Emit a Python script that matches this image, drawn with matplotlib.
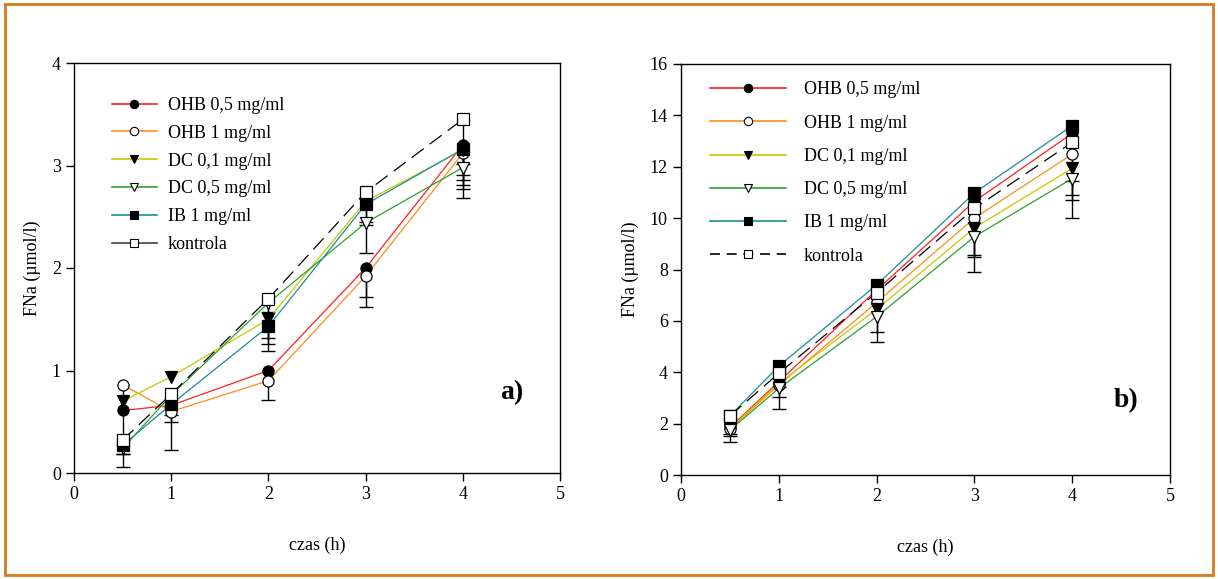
import numpy as np
import matplotlib
matplotlib.use("Agg")
import matplotlib.pyplot as plt
from matplotlib.lines import Line2D
from matplotlib.patches import Rectangle

plt.rcParams['font.family'] = ['Liberation Serif', 'DejaVu Serif']

czas = [0.5, 1, 2, 3, 4]
serie = ['OHB 0,5 mg/ml', 'OHB 1 mg/ml', 'DC 0,1 mg/ml', 'DC 0,5 mg/ml', 'IB 1 mg/ml', 'kontrola']
kolory = ['#ff2020', '#ff8c1a', '#c8c800', '#2e9e2e', '#1a8f95', 'black']
markery = ['o', 'o', 'v', 'v', 's', 's']
wypelnione = [True, False, True, False, True, False]

# panel a) - srednie i dolne odchylenia
a_ohb05 = [0.61, 0.66, 1.00, 2.00, 3.20]
a_ohb1 = [0.86, 0.60, 0.90, 1.92, 3.12]
a_dc01 = [0.70, 0.94, 1.50, 2.65, 3.15]
a_dc05 = [0.24, 0.76, 1.66, 2.44, 2.98]
a_ib1 = [0.27, 0.67, 1.43, 2.62, 3.16]
a_kontrola = [0.32, 0.77, 1.70, 2.74, 3.45]
a_err_ohb05 = [0.00, 0.16, 0.00, 0.28, 0.52]
a_err_ohb1 = [0.80, 0.38, 0.19, 0.30, 0.26]
a_err_dc01 = [0.00, 0.00, 0.24, 0.20, 0.24]
a_err_dc05 = [0.05, 0.00, 0.34, 0.29, 0.21]
a_err_ib1 = [0.00, 0.10, 0.24, 0.20, 0.35]
a_err_kontrola = [0.13, 0.00, 0.13, 0.00, 0.44]

# panel b)
b_ohb05 = [1.85, 3.63, 7.20, 10.65, 13.30]
b_ohb1 = [1.80, 3.50, 6.72, 10.00, 12.49]
b_dc01 = [1.80, 3.57, 6.45, 9.62, 11.94]
b_dc05 = [1.75, 3.37, 6.16, 9.28, 11.54]
b_ib1 = [2.30, 4.24, 7.40, 10.98, 13.60]
b_kontrola = [2.30, 3.96, 7.10, 10.38, 12.95]
b_err_ohb05 = [0.00, 0.00, 0.00, 0.00, 0.00]
b_err_ohb1 = [0.30, 0.47, 0.00, 1.50, 1.79]
b_err_dc01 = [0.20, 0.16, 0.90, 1.05, 1.03]
b_err_dc05 = [0.45, 0.80, 1.00, 1.37, 1.53]
b_err_ib1 = [0.00, 0.00, 0.00, 0.00, 0.00]
b_err_kontrola = [0.00, 0.00, 0.00, 0.00, 1.50]

dane_a = [a_ohb05, a_ohb1, a_dc01, a_dc05, a_ib1, a_kontrola]
err_a = [a_err_ohb05, a_err_ohb1, a_err_dc01, a_err_dc05, a_err_ib1, a_err_kontrola]
dane_b = [b_ohb05, b_ohb1, b_dc01, b_dc05, b_ib1, b_kontrola]
err_b = [b_err_ohb05, b_err_ohb1, b_err_dc01, b_err_dc05, b_err_ib1, b_err_kontrola]

W, H = 1218, 579
fig = plt.figure(figsize=(W / 100, H / 100), dpi=100)
fig.patches.append(Rectangle((5 / W, 4 / H), 1208 / W, 571 / H, transform=fig.transFigure,
                             fill=False, edgecolor='#d87a1a', linewidth=2))

ax1 = fig.add_axes([74 / W, 1 - 473 / H, 486 / W, 410 / H])
ax2 = fig.add_axes([681 / W, 1 - 475 / H, 489 / W, 411 / H])


def rysuj(ax, dane, bledy):
    x = np.array(czas)
    for y, e in zip(dane, bledy):
        y = np.array(y)
        e = np.array(e)
        sel = e > 0
        if sel.any():
            eb = ax.errorbar(x[sel], y[sel], yerr=[e[sel], np.zeros(sel.sum())], fmt='none',
                             ecolor='black', elinewidth=1, capsize=5, capthick=1, zorder=2)
            for cl in eb[1][1:]:
                cl.set_visible(False)
    for y, k, m, f, nazwa in zip(dane, kolory, markery, wypelnione, serie):
        ls = (0, (12, 6)) if nazwa == 'kontrola' else '-'
        ax.plot(czas, y, color=k, linestyle=ls, linewidth=0.9, zorder=3)
        ax.plot(czas, y, linestyle='none', marker=m, markersize=8,
                markerfacecolor='black' if f else 'white', markeredgecolor='black',
                markeredgewidth=0.9, zorder=4)


def legenda(ax, przerywana, dlugosc, bbox, odstep, pad):
    uchwyty = []
    for k, m, f, nazwa in zip(kolory, markery, wypelnione, serie):
        if nazwa == 'kontrola':
            kol = 'black' if przerywana else '#444444'
            ls = (0, (6, 4)) if przerywana else '-'
        else:
            kol, ls = k, '-'
        uchwyty.append(Line2D([0], [0], color=kol, linestyle=ls, linewidth=1.2, marker=m,
                              markersize=6, markerfacecolor='black' if f else 'white',
                              markeredgecolor='black', markeredgewidth=0.8))
    ax.legend(uchwyty, serie, loc='upper left', bbox_to_anchor=bbox, frameon=False,
              fontsize=13, handlelength=dlugosc, handletextpad=pad, labelspacing=odstep,
              borderaxespad=0)


for ax, dane, bledy in [(ax1, dane_a, err_a), (ax2, dane_b, err_b)]:
    rysuj(ax, dane, bledy)
    ax.set_xlim(0, 5)
    ax.set_xticks([0, 1, 2, 3, 4, 5])
    ax.tick_params(direction='out', length=6, width=1, labelsize=13, top=False, right=False)
    ax.set_xlabel('czas (h)', fontsize=13, labelpad=24)
    ax.set_ylabel('FNa (\u00b5mol/l)', fontsize=13, labelpad=8)
    for s in ax.spines.values():
        s.set_linewidth(1)

ax1.set_ylim(0, 4)
ax1.set_yticks([0, 1, 2, 3, 4])
ax2.set_ylim(0, 16)
ax2.set_yticks(range(0, 17, 2))

legenda(ax1, False, 2.5, (0.063, 0.935), 0.6, 0.6)
legenda(ax2, True, 4.2, (0.044, 0.975), 0.9, 1.0)

ax1.text(0.90, 0.18, 'a)', transform=ax1.transAxes, fontsize=20, fontweight='bold', ha='center')
ax2.text(0.91, 0.165, 'b)', transform=ax2.transAxes, fontsize=20, fontweight='bold', ha='center')

fig.savefig('out.png', dpi=100)
